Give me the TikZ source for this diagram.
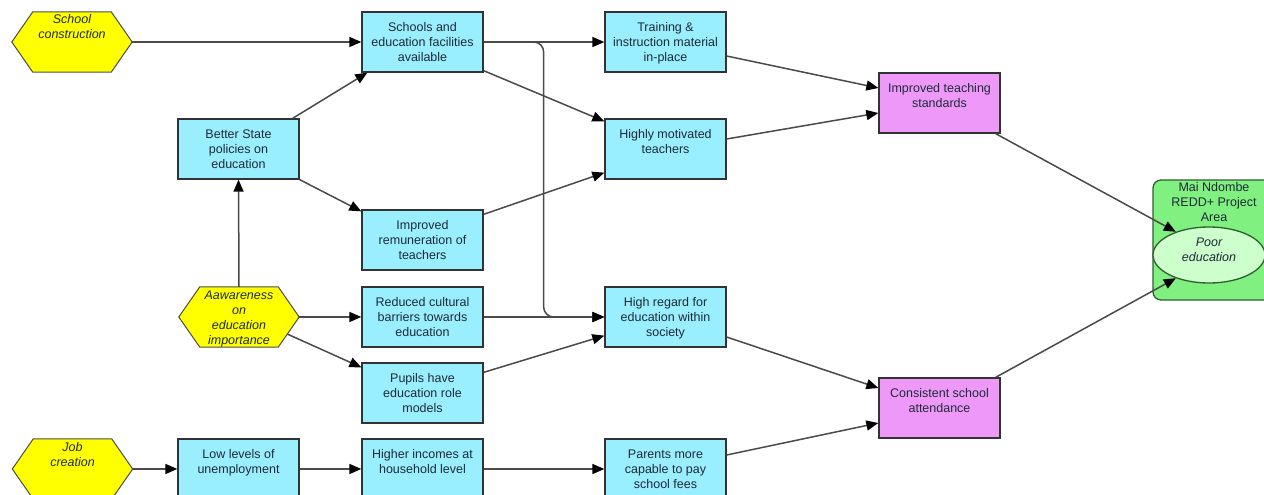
\documentclass[tikz,border=0pt]{standalone}
\usepackage{fontspec}
\setmainfont{Liberation Sans}
\usetikzlibrary{arrows.meta,shapes.geometric,backgrounds}

\definecolor{cardcyan}{HTML}{99EEFF}
\definecolor{cardpink}{HTML}{EE99FA}
\definecolor{hexyellow}{HTML}{FFFF00}
\definecolor{areagreen}{HTML}{80F080}
\definecolor{areadark}{HTML}{2F5F2F}
\definecolor{ovalgreen}{HTML}{CCFFCC}
\definecolor{inkcol}{HTML}{1E2A36}
\definecolor{wirecol}{HTML}{4A4A4A}
\newcommand{\labfont}{\fontsize{12.5}{15}\selectfont}

% yellow hexagon behind a named placeholder node
\newcommand{\hexback}[1]{%
  \begin{pgfonlayer}{background}
    \filldraw[fill=hexyellow, draw=black!70, line width=1pt]
      (#1.west) -- ([xshift=21pt]#1.north west) -- ([xshift=-21pt]#1.north east)
      -- (#1.east) -- ([xshift=-21pt]#1.south east) -- ([xshift=21pt]#1.south west) -- cycle;
  \end{pgfonlayer}}

\begin{document}
\begin{tikzpicture}[
  x=1pt, y=-1pt,
  card/.style={draw=black!80, line width=1.3pt, minimum width=121pt, minimum height=60pt, inner sep=0pt},
  cyancard/.style={card, fill=cardcyan},
  pinkcard/.style={card, fill=cardpink},
  cardtext/.style={anchor=north, align=center, inner sep=0pt, font=\labfont, text=inkcol, yshift=-9.5pt},
  hexspot/.style={minimum width=120pt, minimum height=60pt, inner sep=0pt},
  hextext/.style={anchor=north, align=center, inner sep=0pt, font=\labfont\itshape, text=inkcol, yshift=-1.5pt},
  areatext/.style={anchor=north, align=center, inner sep=0pt, font=\labfont, text=inkcol, yshift=-1.5pt},
  wire/.style={draw=wirecol, line width=1.5pt, -{Triangle[length=12pt,width=10pt,color=black]}},
]
\useasboundingbox (0,0) rectangle (1264,495);
\clip (0,0) rectangle (1264,495);
\begin{pgfonlayer}{background}
  \fill[white] (0,0) rectangle (1264,495);
\end{pgfonlayer}

% drivers (hexagons)
\node[hexspot, label={[hextext]north:\strut School\\construction}] (sc) at (72,42) {};
\hexback{sc}
\node[hexspot, label={[hextext]north:\strut Aawareness\\on\\education\\importance}] (aw) at (239,317) {};
\hexback{aw}
\node[hexspot, label={[hextext]north:\strut Job\\creation}] (job) at (72.5,469) {};
\hexback{job}

% intermediate factors
\node[cyancard, label={[cardtext]north:\strut Schools and\\education facilities\\available}] (sef) at (422.5,42) {};
\node[cyancard, label={[cardtext]north:\strut Training \&\\instruction material\\in-place}] (tim) at (665.5,42) {};
\node[cyancard, label={[cardtext]north:\strut Highly motivated\\teachers}] (hmt) at (665.5,149) {};
\node[cyancard, label={[cardtext]north:\strut Better State\\policies on\\education}] (bsp) at (238.5,149) {};
\node[cyancard, label={[cardtext]north:\strut Improved\\remuneration of\\teachers}] (irt) at (422.5,240) {};
\node[cyancard, label={[cardtext]north:\strut Reduced cultural\\barriers towards\\education}] (rcb) at (422.5,317) {};
\node[cyancard, label={[cardtext]north:\strut Pupils have\\education role\\models}] (phe) at (422.5,393) {};
\node[cyancard, label={[cardtext]north:\strut High regard for\\education within\\society}] (hre) at (665.5,317) {};
\node[cyancard, label={[cardtext]north:\strut Low levels of\\unemployment}] (llu) at (238.5,469) {};
\node[cyancard, label={[cardtext]north:\strut Higher incomes at\\household level}] (hih) at (422.5,469) {};
\node[cyancard, label={[cardtext]north:\strut Parents more\\capable to pay\\school fees}] (pmc) at (665.5,469) {};

% outcomes
\node[pinkcard, label={[cardtext]north:\strut Improved teaching\\standards}] (its) at (939.5,103) {};
\node[pinkcard, label={[cardtext]north:\strut Consistent school\\attendance}] (csa) at (939.5,408) {};

% project area with the core problem
\node[draw=areadark, fill=areagreen, rounded corners=8pt, line width=1.3pt,
      minimum width=122pt, minimum height=120pt, inner sep=0pt,
      label={[areatext]north:\strut Mai Ndombe\\REDD+ Project\\Area}] (area) at (1214,240) {};
\node[ellipse, draw=areadark, fill=ovalgreen, line width=1.3pt,
      minimum width=112pt, minimum height=56pt, inner sep=0pt,
      label={[font=\labfont\itshape, text=inkcol, align=center, anchor=center, yshift=5pt]center:Poor\\education}] (pe) at (1209,255) {};

% connectors
\draw[wire] (sc.east) -- (sef.west);
\draw[wire] (sef.east) -- (tim.west);
\draw[wire, rounded corners=10pt] (sef.east) -- ([xshift=60pt]sef.east) |- (hre.west);
\draw[wire] ([yshift=2pt]sef.south east) -- ([yshift=-3pt]hmt.north west);
\draw[wire] ([xshift=-7pt]bsp.north east) -- ([xshift=6pt]sef.south west);
\draw[wire] (bsp.south east) -- ([yshift=-2pt]irt.north west);
\draw[wire] ([yshift=-5pt]irt.north east) -- ([yshift=7pt]hmt.south west);
\draw[wire] ([yshift=-14pt]tim.east) -- ([yshift=15pt]its.west);
\draw[wire] ([yshift=10pt]hmt.east) -- ([yshift=-10pt]its.west);
\draw[wire] ([xshift=-5pt]its.south east) -- (pe.145);
\draw[wire] ([xshift=-5pt]csa.north east) -- (pe.215);
\draw[wire] (aw.north) -- (bsp.south);
\draw[wire] (aw.east) -- (rcb.west);
\draw[wire] ([xshift=-12pt, yshift=-17pt]aw.east) -- ([yshift=-5pt]phe.north west);
\draw[wire] (rcb.east) -- (hre.west);
\draw[wire] ([yshift=-10pt]phe.north east) -- ([yshift=12pt]hre.south west);
\draw[wire] ([yshift=-20pt]hre.east) -- ([yshift=20pt]csa.west);
\draw[wire] ([yshift=14pt]pmc.east) -- ([yshift=-15pt]csa.west);
\draw[wire] (job.east) -- (llu.west);
\draw[wire] (llu.east) -- (hih.west);
\draw[wire] (hih.east) -- (pmc.west);
\end{tikzpicture}
\end{document}
